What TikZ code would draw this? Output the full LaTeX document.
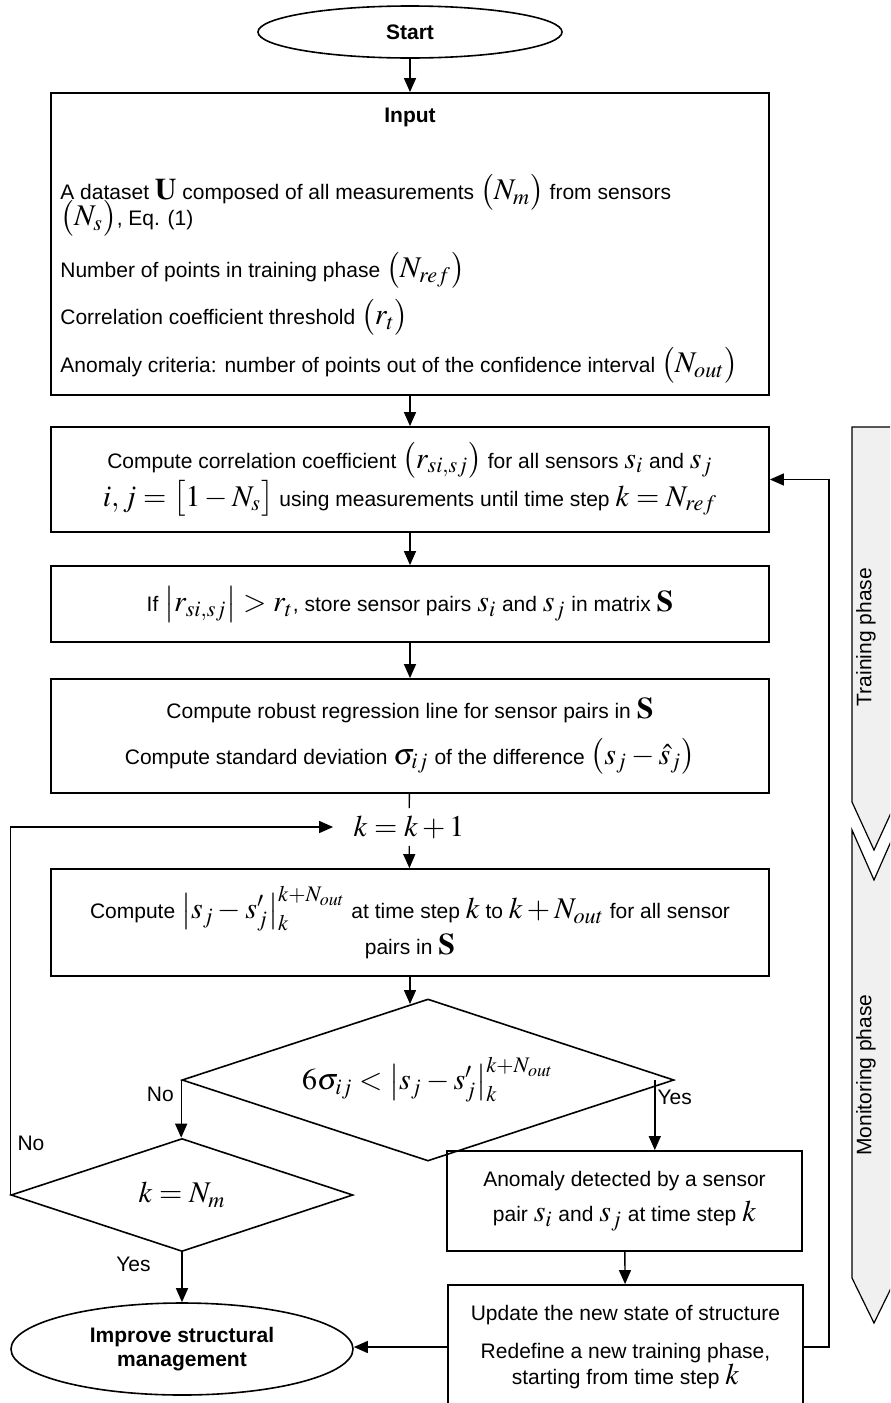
\documentclass[tikz,border=0pt]{standalone}
\usepackage{amsmath}
\usepackage{mathptmx}
\usepackage[no-math]{fontspec}
\setmainfont{Liberation Sans}
\usepackage{tikz}
\usetikzlibrary{arrows.meta,positioning,shapes.geometric}

\newcommand{\mth}[1]{{\fontsize{15}{18}\selectfont$#1$}}

\begin{document}
\begin{tikzpicture}[x=0.5pt, y=-0.5pt,
  every node/.style = {font=\fontsize{10.5}{13}\selectfont},
  stepbox/.style    = {draw, line width=0.9pt, minimum width=359pt,
                       align=center, inner sep=0pt},
  term/.style       = {draw, ellipse, line width=0.8pt, inner sep=0pt,
                       align=center, font=\fontsize{10.5}{12}\selectfont\bfseries},
  decide/.style     = {draw, diamond, line width=0.8pt, inner sep=0pt, aspect=3},
  inline/.style     = {anchor=west, inner sep=0pt},
  lbl/.style        = {font=\fontsize{10.5}{13}\selectfont},
  arr/.style        = {-{Triangle[length=7pt,width=6pt]}, line width=0.7pt},
  link/.style       = {line width=0.7pt},
  phasearrow/.style = {draw, fill=black!6, line width=0.6pt},
  phaselbl/.style   = {rotate=90},
]
\useasboundingbox (0,0) rectangle (890,1403);
\clip (0,0) rectangle (890,1403);

%% ── Start and input ─────────────────────────────────────────────────────────
\node[term, minimum width=152pt, minimum height=26pt] (start) at (410,32) {Start};

\node[stepbox, minimum height=151pt] (input) at (410,244) {};
\node[font=\fontsize{10.5}{13}\selectfont\bfseries] (inputttl) at (410,117) {Input};
\node[inline] (in1) at (60,192) {A dataset \mth{\mathbf{U}} composed of all measurements \mth{\bigl(N_m\bigr)} from sensors};
\node[inline] (in2) at (60,218) {\mth{\bigl(N_s\bigr)}, Eq. (1)};
\node[inline] (in3) at (60,270) {Number of points in training phase \mth{\bigl(N_{ref}\bigr)}};
\node[inline] (in4) at (60,317) {Correlation coefficient threshold \mth{\bigl(r_t\bigr)}};
\node[inline] (in5) at (60,365) {Anomaly criteria: number of points out of the confidence interval \mth{\bigl(N_{out}\bigr)}};

%% ── Training steps ──────────────────────────────────────────────────────────
\node[stepbox, minimum height=52.5pt] (corr) at (410,479.5)
  {Compute correlation coefficient \mth{\bigl(r_{si,sj}\bigr)} for all sensors \mth{s_i} and \mth{s_j}\\
   \mth{i,j=\bigl[1-N_s\bigr]} using measurements until time step \mth{k=N_{ref}}};

\node[stepbox, minimum height=38pt] (store) at (410,604)
  {If \mth{\bigl|r_{si,sj}\bigr|>r_t}, store sensor pairs \mth{s_i} and \mth{s_j} in matrix \mth{\mathbf{S}}};

\node[stepbox, minimum height=57pt] (regress) at (410,736)
  {Compute robust regression line for sensor pairs in \mth{\mathbf{S}}\\[7pt]
   Compute standard deviation \mth{\sigma_{ij}} of the difference \mth{\bigl(s_j-\hat{s}_j\bigr)}};

%% ── Monitoring loop ─────────────────────────────────────────────────────────
\node[inner xsep=10pt, inner ysep=3.5pt] (kstep) at (409,827) {\mth{k=k+1}};

\node[stepbox, minimum height=53.5pt] (comp) at (410,922.5)
  {Compute \mth{\bigl|s_j-s'_j\bigr|_k^{k+N_{out}}} at time step \mth{k} to \mth{k+N_{out}} for all sensor\\
   pairs in \mth{\mathbf{S}}};

\node[decide, minimum width=246pt, minimum height=81pt] (dec1) at (428,1080)
  {\mth{6\sigma_{ij}<\bigl|s_j-s'_j\bigr|_k^{k+N_{out}}}};

\node[decide, minimum width=171pt, minimum height=56.5pt] (dec2) at (182,1195) {\mth{k=N_m}};

\node[term, minimum width=171pt, minimum height=46pt] (improve) at (182,1349)
  {Improve structural\\management};

\node[stepbox, minimum width=177.5pt, minimum height=50pt] (anomaly) at (624.5,1201)
  {Anomaly detected by a sensor\\[4.5pt]
   pair \mth{s_i} and \mth{s_j} at time step \mth{k}};

\node[stepbox, minimum width=177.5pt, minimum height=62pt] (update) at (625.5,1347)
  {Update the new state of structure\\[6pt]
   Redefine a new training phase,\\
   starting from time step \mth{k}};

%% ── Connectors ──────────────────────────────────────────────────────────────
\draw[arr] (start) -- (input);
\draw[arr] (input) -- (corr);
\draw[arr] (corr) -- (store);
\draw[arr] (store) -- (regress);
\draw[link] (regress) -- (kstep);
\draw[arr] (kstep) -- (comp);
\draw[arr] (comp.south) -- (comp.south |- dec1.103);

\draw[arr] (dec1.west) -- node[lbl, pos=0.25, left] {No} (dec1.west |- dec2.north);
\draw[arr] ([xshift=-10pt]dec1.east) -- node[lbl, pos=0.25, right, inner xsep=1pt] {Yes}
  ([xshift=-10pt]dec1.east |- anomaly.north);

\draw[arr] (dec2.south) -- node[lbl, pos=0.25, left=12pt] {Yes} (improve.north);
\draw[arr] (dec2.west) |- node[lbl, pos=0.07, right] {No} (kstep.west);

\draw[arr] (anomaly) -- (update);
\draw[arr] (update.west) -- (update.west -| improve.east);
\draw[arr] (update.east) -- ++(25,0) |- (corr.east);

%% ── Phase bars ──────────────────────────────────────────────────────────────
\draw[phasearrow] (852,427) -- (896,427) -- (896,802) -- (874,850) -- (852,802) -- cycle;
\draw[phasearrow] (852,830) -- (874,880) -- (896,830) -- (896,1278) -- (874,1323) -- (852,1278) -- cycle;
\node[phaselbl] (trainlbl) at (866,637) {Training phase};
\node[phaselbl] (monlbl) at (866,1075) {Monitoring phase};

\end{tikzpicture}
\end{document}
